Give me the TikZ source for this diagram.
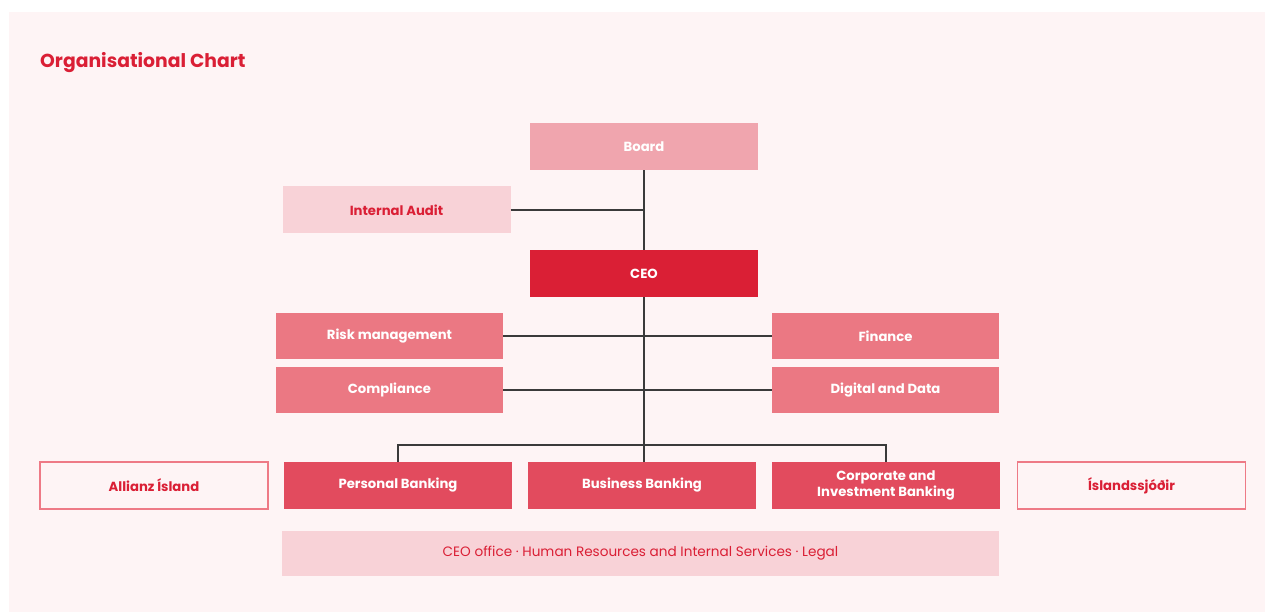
\documentclass[tikz,border=0pt]{standalone}
\usepackage{fontspec}
\setmainfont{Poppins}
\usepackage{xcolor}
\usetikzlibrary{positioning}
\definecolor{PAGE_PINK}{HTML}{FEF4F5}
\definecolor{TITLE_RED}{HTML}{DA1F35}
\definecolor{BOARD_PINK}{HTML}{F0A5AE}
\definecolor{PALE_PINK}{HTML}{F8D2D7}
\definecolor{STAFF_PINK}{HTML}{EB7883}
\definecolor{LINE_RED}{HTML}{E24B5E}
\definecolor{EDGE_PINK}{HTML}{EE7A86}
\definecolor{LINK_GREY}{HTML}{3A3A3A}

\begin{document}
\begin{tikzpicture}[x=1pt, y=-1pt,
		unit/.style={rectangle, minimum width=228pt, minimum height=47pt, inner sep=0pt,
			font={\fontsize{13.2}{16.5}\selectfont\bfseries}, align={center}},
		boardbox/.style={unit, fill={BOARD_PINK}, text={white}},
		auditbox/.style={unit, fill={PALE_PINK}, text={TITLE_RED}},
		ceobox/.style={unit, fill={TITLE_RED}, text={white}},
		staffbox/.style={unit, fill={STAFF_PINK}, text={white}},
		linebox/.style={unit, fill={LINE_RED}, text={white}},
		subbox/.style={unit, draw={EDGE_PINK}, line width={1.4pt}, fill={PAGE_PINK}, text={TITLE_RED}},
		link/.style={draw={LINK_GREY}, line width={1.3pt}}]
				\useasboundingbox (0, 0) rectangle (1265, 612);
				\fill[PAGE_PINK] (9, 12) rectangle (1265, 612);
				\node[anchor={west}, text={TITLE_RED}, font={\fontsize{18.8}{22}\selectfont\bfseries}, inner sep=0pt] (title) at ( 40.0, 63.0) {Organisational Chart};
				\node[boardbox] (board) at ( 644.0, 146.5) {Board};
				\node[auditbox] (audit) at ( 396.5, 210.0) {Internal Audit};
				\node[ceobox] (ceo) at ( 644.0, 273.5) {CEO};
				\node[staffbox, minimum width=227pt, minimum height=46pt] (risk) at ( 389.5, 336.0) {Risk management};
				\node[staffbox, minimum width=227pt, minimum height=46pt] (compliance) at ( 389.5, 390.0) {Compliance};
				\node[staffbox, minimum width=227pt, minimum height=46pt] (finance) at ( 885.5, 336.0) {Finance};
				\node[staffbox, minimum width=227pt, minimum height=46pt] (digital) at ( 885.5, 390.0) {Digital and Data};
				\node[subbox] (allianz) at ( 154.0, 485.5) {Allianz Ísland};
				\node[linebox] (personal) at ( 398.0, 485.5) {Personal Banking};
				\node[linebox] (business) at ( 642.0, 485.5) {Business Banking};
				\node[linebox] (corporate) at ( 886.0, 485.5) {Corporate and\\Investment Banking};
				\node[subbox] (islandssjodir) at ( 1131.5, 485.5) {Íslandssjóðir};
				\node[unit, fill={PALE_PINK}, text={TITLE_RED}, minimum width=717pt, minimum height=45pt,
					font={\fontsize{13.6}{16.5}\selectfont}] (office) at ( 640.5, 553.5)
					{CEO office · Human Resources and Internal Services · Legal};
				\coordinate (split) at ( 644.0, 445.0);
				\draw[link] (board.south) to (ceo.north);
				\draw[link] (audit.east) to (audit.east -| board.south);
				\draw[link] (ceo.south) to (ceo.south |- business.north);
				\draw[link] (risk.east) to (finance.west);
				\draw[link] (compliance.east) to (digital.west);
				\draw[link] (personal.north) |- (split) -| (corporate.north);
			\end{tikzpicture}
\end{document}
